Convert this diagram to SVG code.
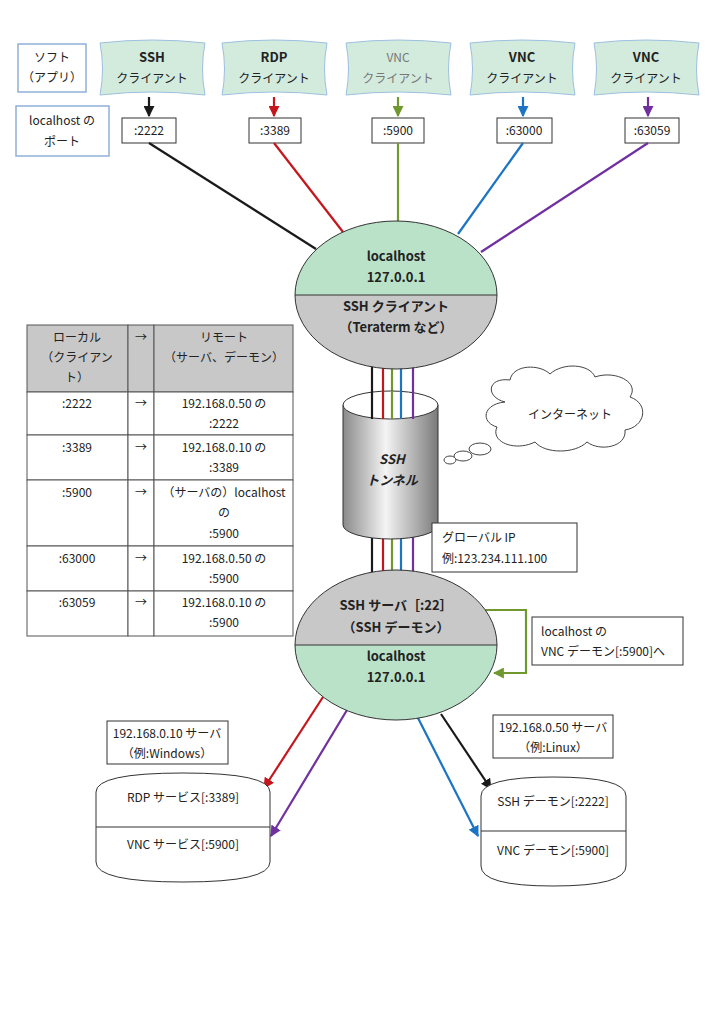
<svg xmlns="http://www.w3.org/2000/svg" width="724" height="1024" viewBox="0 0 724 1024">
<style>
text{font-family:"Noto Sans CJK JP","Noto Sans",sans-serif;font-size:12px;fill:#222;text-anchor:middle}
.b{font-weight:bold;font-size:13px}
.l{text-anchor:start}
.box{fill:#fff;stroke:#333;stroke-width:1}
.lbox{fill:#fff;stroke:#8fb0d8;stroke-width:1.5}
.ban{fill:#d3ebdd;stroke:#9cc0e0;stroke-width:1}
.ln{fill:none;stroke-width:2.2}
.k{stroke:#1a1a1a}.r{stroke:#c4161c}.g{stroke:#70982f}.bl{stroke:#1b74c4}.p{stroke:#7030a0}
.tb{fill:#fff;stroke:#555;stroke-width:1}
.th{fill:#c8c8c8;stroke:#555;stroke-width:1}
</style>
<defs>
<marker id="ak" viewBox="0 0 10 10" refX="9" refY="5" markerWidth="5" markerHeight="5" orient="auto"><path d="M0,0L10,5L0,10z" fill="#1a1a1a"/></marker>
<marker id="ar" viewBox="0 0 10 10" refX="9" refY="5" markerWidth="5" markerHeight="5" orient="auto"><path d="M0,0L10,5L0,10z" fill="#c4161c"/></marker>
<marker id="ag" viewBox="0 0 10 10" refX="9" refY="5" markerWidth="5" markerHeight="5" orient="auto"><path d="M0,0L10,5L0,10z" fill="#70982f"/></marker>
<marker id="ab" viewBox="0 0 10 10" refX="9" refY="5" markerWidth="5" markerHeight="5" orient="auto"><path d="M0,0L10,5L0,10z" fill="#1b74c4"/></marker>
<marker id="ap" viewBox="0 0 10 10" refX="9" refY="5" markerWidth="5" markerHeight="5" orient="auto"><path d="M0,0L10,5L0,10z" fill="#7030a0"/></marker>
<linearGradient id="cyl" x1="0" x2="1"><stop offset="0" stop-color="#8a8a8a"/><stop offset="0.45" stop-color="#f4f4f4"/><stop offset="1" stop-color="#7a7a7a"/></linearGradient>
<path id="banner" d="M0,2 Q52,-4 105,2 Q100,28 105,54 Q52,48 0,54 Q5,28 0,2z"/>
</defs>

<g id="soft-label"><rect class="lbox" x="18" y="44" width="68" height="48"/><text x="52" y="62">ソフト</text><text x="52" y="82">（アプリ）</text></g>
<g id="port-label"><rect class="lbox" x="16" y="106" width="93" height="50"/><text x="62" y="125">localhost の</text><text x="62" y="146">ポート</text></g>

<g id="app-ssh"><use href="#banner" class="ban" x="100" y="41"/><text class="b" x="152" y="62">SSH</text><text x="152" y="83">クライアント</text></g>
<g id="app-rdp"><use href="#banner" class="ban" x="222" y="41"/><text class="b" x="274" y="62">RDP</text><text x="274" y="83">クライアント</text></g>
<g id="app-vnc1"><use href="#banner" class="ban" x="346" y="41"/><text x="398" y="62" style="fill:#777">VNC</text><text x="398" y="83" style="fill:#777">クライアント</text></g>
<g id="app-vnc2"><use href="#banner" class="ban" x="470" y="41"/><text class="b" x="522" y="62">VNC</text><text x="522" y="83">クライアント</text></g>
<g id="app-vnc3"><use href="#banner" class="ban" x="594" y="41"/><text class="b" x="646" y="62">VNC</text><text x="646" y="83">クライアント</text></g>

<g id="p2222"><rect class="box" x="122" y="118" width="54" height="25"/><text x="149" y="135">:2222</text></g>
<g id="p3389"><rect class="box" x="249" y="118" width="52" height="25"/><text x="275" y="135">:3389</text></g>
<g id="p5900"><rect class="box" x="372" y="118" width="52" height="25"/><text x="398" y="135">:5900</text></g>
<g id="p63000"><rect class="box" x="497" y="118" width="55" height="25"/><text x="524" y="135">:63000</text></g>
<g id="p63059"><rect class="box" x="625" y="118" width="54" height="25"/><text x="652" y="135">:63059</text></g>

<g id="connectors">
<line class="ln k" x1="149" y1="97" x2="149" y2="116" marker-end="url(#ak)"/>
<line class="ln r" x1="274" y1="97" x2="274" y2="116" marker-end="url(#ar)"/>
<line class="ln g" x1="398" y1="97" x2="398" y2="116" marker-end="url(#ag)"/>
<line class="ln bl" x1="523" y1="97" x2="523" y2="116" marker-end="url(#ab)"/>
<line class="ln p" x1="648" y1="97" x2="648" y2="116" marker-end="url(#ap)"/>
<line class="ln k" x1="149" y1="143" x2="316" y2="249"/>
<line class="ln r" x1="274" y1="143" x2="343" y2="232"/>
<line class="ln g" x1="398" y1="143" x2="398" y2="221"/>
<line class="ln bl" x1="523" y1="143" x2="458" y2="234"/>
<line class="ln p" x1="648" y1="143" x2="481" y2="252"/>
<g stroke-width="2.2">
<line class="k" x1="372" y1="366" x2="372" y2="572"/>
<line class="r" x1="383" y1="366" x2="383" y2="572"/>
<line class="g" x1="392" y1="366" x2="392" y2="572"/>
<line class="bl" x1="401" y1="366" x2="401" y2="572"/>
<line class="p" x1="413" y1="366" x2="413" y2="572"/>
</g>
<polyline class="ln g" points="484,610 526,610 526,673 494,673" marker-end="url(#ag)"/>
<line class="ln r" x1="323" y1="697" x2="264" y2="788" marker-end="url(#ar)"/>
<line class="ln p" x1="347" y1="710" x2="271" y2="836" marker-end="url(#ap)"/>
<line class="ln bl" x1="418" y1="718" x2="478" y2="836" marker-end="url(#ab)"/>
<line class="ln k" x1="441" y1="714" x2="491" y2="789" marker-end="url(#ak)"/>
</g>

<g id="tunnel">
<path d="M343,405 L343,525 A47.5,14 0 0 0 438,525 L438,405z" fill="url(#cyl)" stroke="#333"/>
<ellipse cx="390.5" cy="405" rx="47.5" ry="14" fill="#fff" stroke="#333"/>
<g stroke-width="2.2">
<line class="k" x1="372" y1="391" x2="372" y2="419"/><line class="r" x1="383" y1="391" x2="383" y2="419"/><line class="g" x1="392" y1="391" x2="392" y2="419"/><line class="bl" x1="401" y1="391" x2="401" y2="419"/><line class="p" x1="413" y1="391" x2="413" y2="419"/>
</g>
<text class="b" x="392" y="464" style="font-style:italic">SSH</text>
<text class="b" x="392" y="485" style="font-style:italic">トンネル</text>
</g>

<g id="client">
<clipPath id="c1"><ellipse cx="396" cy="295" rx="101" ry="74"/></clipPath>
<g clip-path="url(#c1)"><rect x="290" y="215" width="215" height="80" fill="#b9e2c9"/><rect x="290" y="295" width="215" height="80" fill="#c8c8c8"/></g>
<line x1="295" y1="295" x2="497" y2="295" stroke="#333"/>
<ellipse cx="396" cy="295" rx="101" ry="74" fill="none" stroke="#333"/>
<text class="b" x="396" y="261">localhost</text><text class="b" x="396" y="282">127.0.0.1</text>
<text class="b" x="396" y="311">SSH クライアント</text><text class="b" x="396" y="332">（Teraterm など）</text>
</g>

<g id="server">
<clipPath id="c2"><ellipse cx="396" cy="645" rx="101" ry="75"/></clipPath>
<g clip-path="url(#c2)"><rect x="290" y="565" width="215" height="80" fill="#c8c8c8"/><rect x="290" y="645" width="215" height="80" fill="#b9e2c9"/></g>
<line x1="295" y1="645" x2="497" y2="645" stroke="#333"/>
<ellipse cx="396" cy="645" rx="101" ry="75" fill="none" stroke="#333"/>
<text class="b" x="396" y="610">SSH サーバ［:22］</text><text class="b" x="396" y="632">（SSH デーモン）</text>
<text class="b" x="396" y="661">localhost</text><text class="b" x="396" y="682">127.0.0.1</text>
</g>

<g id="internet" fill="#fff" stroke="#444" stroke-width="1">
<path d="M505,402 C485,397 487,377 510,380 C513,364 540,364 550,374 C563,362 590,364 595,377 C615,370 640,382 630,397 C650,404 645,427 625,430 C627,447 600,452 587,442 C575,454 545,454 535,442 C515,452 490,442 497,427 C480,422 483,404 505,402z"/>
<ellipse cx="463" cy="456" rx="9" ry="5"/><ellipse cx="450" cy="460" rx="6" ry="4"/><ellipse cx="480" cy="449" rx="11" ry="6"/>
<text x="570" y="419" stroke="none">インターネット</text>
</g>

<g id="global-ip"><rect class="box" x="432" y="523" width="145" height="49"/><text class="l" x="442" y="542">グローバル IP</text><text class="l" x="442" y="563">例:123.234.111.100</text></g>
<g id="vnc-note"><rect class="box" x="532" y="617" width="151" height="48"/><text class="l" x="541" y="636">localhost の</text><text class="l" x="541" y="656">VNC デーモン[:5900]へ</text></g>

<g id="table">
<rect class="th" x="27" y="325" width="101" height="67"/><rect class="th" x="128" y="325" width="26" height="67"/><rect class="th" x="154" y="325" width="139" height="67"/>
<text x="77" y="342">ローカル</text><text x="77" y="362">（クライアン</text><text x="77" y="382">ト）</text>
<text x="141" y="342">→</text><text x="224" y="342">リモート</text><text x="224" y="362">（サーバ、デーモン）</text>
<g class="tb">
<rect x="27" y="392" width="101" height="43"/><rect x="128" y="392" width="26" height="43"/><rect x="154" y="392" width="139" height="43"/>
<rect x="27" y="435" width="101" height="45"/><rect x="128" y="435" width="26" height="45"/><rect x="154" y="435" width="139" height="45"/>
<rect x="27" y="480" width="101" height="66"/><rect x="128" y="480" width="26" height="66"/><rect x="154" y="480" width="139" height="66"/>
<rect x="27" y="546" width="101" height="45"/><rect x="128" y="546" width="26" height="45"/><rect x="154" y="546" width="139" height="45"/>
<rect x="27" y="591" width="101" height="45"/><rect x="128" y="591" width="26" height="45"/><rect x="154" y="591" width="139" height="45"/>
</g>
<text x="77" y="408">:2222</text><text x="141" y="408">→</text><text x="224" y="408">192.168.0.50 の</text><text x="224" y="428">:2222</text>
<text x="77" y="452">:3389</text><text x="141" y="452">→</text><text x="224" y="452">192.168.0.10 の</text><text x="224" y="472">:3389</text>
<text x="77" y="497">:5900</text><text x="141" y="497">→</text><text x="224" y="497">（サーバの）localhost</text><text x="224" y="517">の</text><text x="224" y="538">:5900</text>
<text x="77" y="563">:63000</text><text x="141" y="563">→</text><text x="224" y="563">192.168.0.50 の</text><text x="224" y="583">:5900</text>
<text x="77" y="607">:63059</text><text x="141" y="607">→</text><text x="224" y="607">192.168.0.10 の</text><text x="224" y="627">:5900</text>
</g>

<g id="win-label"><rect class="box" x="107" y="721" width="121" height="43"/><text x="167" y="738">192.168.0.10 サーバ</text><text x="167" y="758">（例:Windows）</text></g>
<g id="linux-label"><rect class="box" x="493" y="715" width="120" height="43"/><text x="553" y="732">192.168.0.50 サーバ</text><text x="553" y="752">（例:Linux）</text></g>

<g id="win-server">
<path class="box" d="M96,792 Q96,773 183,773 Q270,773 270,792 L270,862 Q270,882 183,882 Q96,882 96,862z"/>
<line x1="96" y1="827" x2="270" y2="827" stroke="#333"/>
<text x="183" y="802">RDP サービス[:3389]</text><text x="183" y="849">VNC サービス[:5900]</text>
</g>
<g id="linux-server">
<path class="box" d="M481,796 Q481,777 553,777 Q626,777 626,796 L626,866 Q626,886 553,886 Q481,886 481,866z"/>
<line x1="481" y1="831" x2="626" y2="831" stroke="#333"/>
<text x="553" y="806">SSH デーモン[:2222]</text><text x="553" y="855">VNC デーモン[:5900]</text>
</g>
</svg>
